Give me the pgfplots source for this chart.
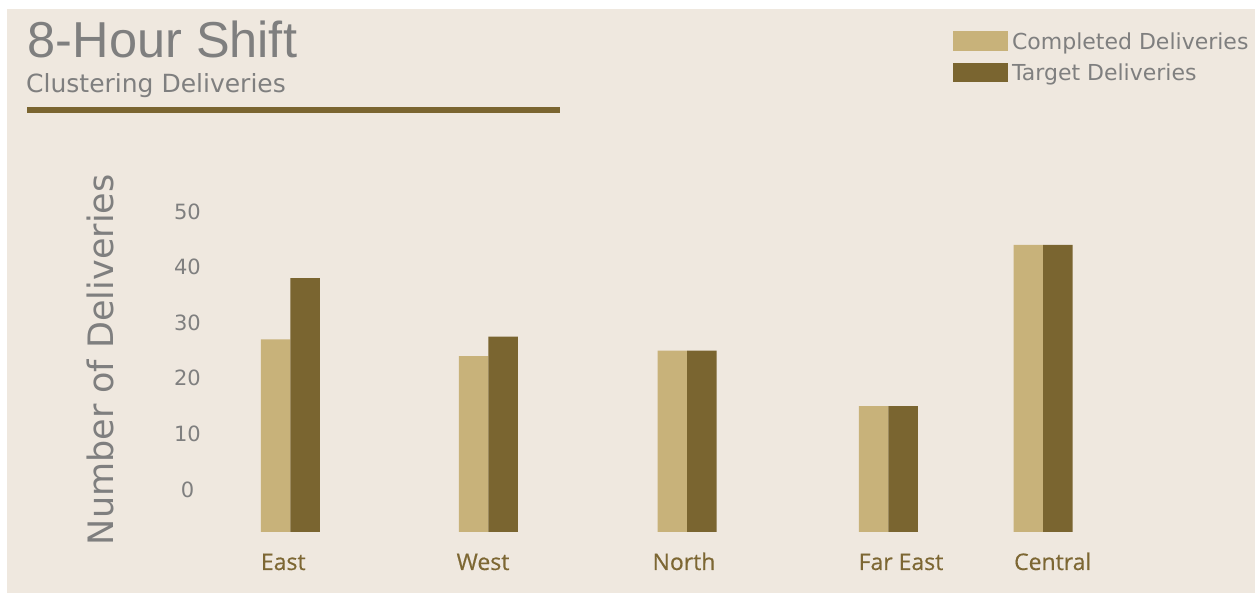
\documentclass[border=0pt]{standalone}
\usepackage{fontspec}
\setmainfont{DejaVu Sans}
\newfontfamily\titlefont{Liberation Sans}
\newfontfamily\catfont[FakeBold=0.5]{Open Sans}
\usepackage{pgfplots}
\pgfplotsset{compat=1.18}
\definecolor{bgc}{HTML}{EFE8DF}
\definecolor{lightbar}{HTML}{C8B27A}
\definecolor{darkbar}{HTML}{7A6530}
\definecolor{txtgray}{HTML}{7F7F7F}
\definecolor{catbrown}{HTML}{7D6733}
\begin{document}
\begin{tikzpicture}[x=1pt,y=1pt]
\path[use as bounding box] (0,0) rectangle (1255,593);
\fill[white] (0,0) rectangle (1255,593);
\fill[bgc] (7,0) rectangle (1255,584);
\node[anchor=base west, inner sep=0pt, text=txtgray, font=\titlefont\fontsize{50.5}{60}\selectfont] at (27.5,535.7) {8-Hour Shift};
\node[anchor=base west, inner sep=0pt, text=txtgray, font=\fontsize{25}{30}\selectfont] at (26,500.3) {Clustering Deliveries};
\fill[darkbar] (26.7,480) rectangle (560,486);
\begin{axis}[
  width=950pt, height=348.3pt, scale only axis,
  at={(200pt,61pt)}, anchor=south west,
  xmin=200, xmax=1150, ymin=-7.64, ymax=55,
  y coord trafo/.code={\pgfmathparse{#1+7.64}},
  y coord inv trafo/.code={\pgfmathparse{#1-7.64}},
  axis line style={draw=none}, tick style={draw=none}, major tick length=0pt,
  clip=false,
  xtick={283.3,483,684,901,1052.7},
  xticklabels={East,West,North,Far East,Central},
  xticklabel style={anchor=base, yshift=-38pt, text=catbrown, font=\catfont\fontsize{23}{28}\selectfont},
  ytick={0,10,20,30,40,50},
  yticklabels={0,10,20,30,40,50},
  yticklabel style={anchor=center, xshift=-12.5pt, text=txtgray, font=\fontsize{21}{25}\selectfont},
  ybar, bar width=29.5pt,
  legend cell align=left,
  legend style={at={(0.7923,1.4375)}, anchor=north west, draw=none, fill=none,
    inner sep=0pt, outer sep=0pt, row sep=7pt, font=\fontsize{22}{26}\selectfont, text=txtgray,
    nodes={inner sep=0pt, text height=17pt, text depth=6pt},
    /tikz/every odd column/.style={column sep=4.4pt}},
  legend image code/.code={\fill[#1] (0pt,-6.5pt) rectangle (55pt,12.8pt);},
]
\addplot[fill=lightbar, draw=none, bar shift=-14.75pt] coordinates {(290.3,27) (488.3,24) (687,25) (888.3,15) (1043,44)};
\addlegendentry{Completed Deliveries}
\addplot[fill=darkbar, draw=none, bar shift=14.75pt] coordinates {(290.3,38) (488.3,27.5) (687,25) (888.3,15) (1043,44)};
\addlegendentry{Target Deliveries}
\end{axis}
\node[rotate=90, anchor=base, inner sep=0pt, text=txtgray, font=\fontsize{35}{42}\selectfont] at (113.3,233.2) {Number of Deliveries};
\end{tikzpicture}
\end{document}
